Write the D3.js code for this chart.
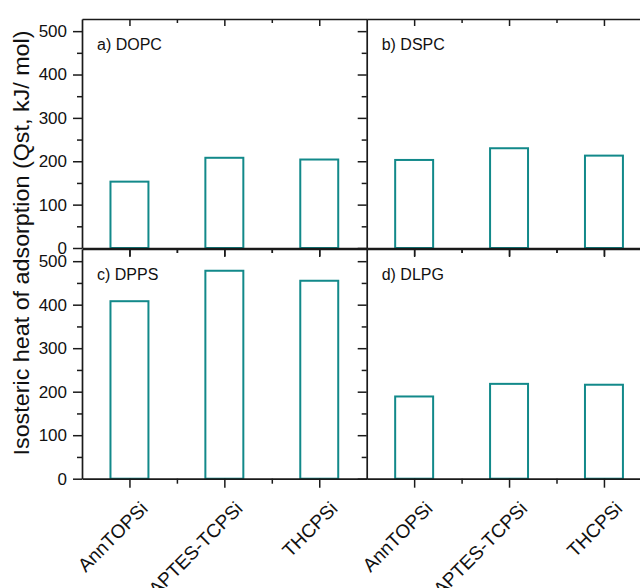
<!DOCTYPE html>
<html>
<head>
<meta charset="utf-8">
<script src="https://cdn.jsdelivr.net/npm/d3@7"></script>
<style>
  html, body { margin: 0; padding: 0; background: #fff; }
  svg { display: block; }
  text { font-family: Arial, "Liberation Sans", sans-serif; fill: #111; }
</style>
</head>
<body>
<svg id="chart" width="640" height="588"></svg>
<script>
// ---- data ----
const categories = ["AnnTOPSi", "APTES-TCPSi", "THCPSi"];
const panelLabels = ["a) DOPC", "b) DSPC", "c) DPPS", "d) DLPG"];
const dopcValues = [153, 208, 204];
const dspcValues = [203, 230, 213];
const dppsValues = [408, 478, 455];
const dlpgValues = [189, 218, 216];
const yTickValues = [0, 100, 200, 300, 400, 500];
const yAxisTitle = "Isosteric heat of adsorption (Qst, kJ/ mol)";

const panelSeries = [dopcValues, dspcValues, dppsValues, dlpgValues];

// ---- layout ----
const svg = d3.select("#chart");
const colX = [82, 366.7];
const panelW = 284.7;
const rowY = [[19, 248], [249, 478.7]];
const yMax = 528;
const barColor = "#12898a";
const axisColor = "#1a1a1a";

panelSeries.forEach((vals, i) => {
  const col = i % 2, row = Math.floor(i / 2);
  const x0 = colX[col], x1 = x0 + panelW;
  const [yTop, yBot] = rowY[row];

  const x = d3.scaleLinear().domain([0.5, 3.5]).range([x0, x1]);
  const y = d3.scaleLinear().domain([0, yMax]).range([yBot, yTop]);

  const g = svg.append("g");

  // bars
  g.selectAll("rect.bar")
    .data(vals)
    .join("rect")
    .attr("class", "bar")
    .attr("x", (d, j) => x(j + 1 - 0.2))
    .attr("width", x(1.4) - x(1))
    .attr("y", d => y(d))
    .attr("height", d => y(0) - y(d))
    .attr("fill", "#fff")
    .attr("stroke", barColor)
    .attr("stroke-width", 2);

  const styleAxis = sel => {
    sel.select(".domain").attr("stroke", axisColor).attr("stroke-width", 1.7);
    sel.selectAll(".tick line").attr("stroke", axisColor).attr("stroke-width", 1.5);
  };

  // left axis: major + minor outward ticks
  const yMinor = d3.range(50, 501, 100);
  const leftMinor = g.append("g").attr("transform", `translate(${x0},0)`)
    .call(d3.axisLeft(y).tickValues(yMinor).tickSize(5).tickFormat(""));
  leftMinor.select(".domain").remove();
  leftMinor.selectAll(".tick line").attr("stroke", axisColor).attr("stroke-width", 1.5);

  const leftAxis = g.append("g").attr("transform", `translate(${x0},0)`)
    .call(d3.axisLeft(y).tickValues(yTickValues).tickSize(9).tickSizeOuter(0)
      .tickPadding(6).tickFormat(col === 0 ? d3.format("d") : ""));
  styleAxis(leftAxis);
  leftAxis.selectAll(".tick text").attr("font-size", 17).attr("fill", "#111");

  // top axis: inward ticks
  const topMinor = g.append("g").attr("transform", `translate(0,${yTop})`)
    .call(d3.axisTop(x).tickValues([1.5, 2.5]).tickSize(-4).tickFormat(""));
  topMinor.select(".domain").remove();
  topMinor.selectAll(".tick line").attr("stroke", axisColor).attr("stroke-width", 1.5);
  const topAxis = g.append("g").attr("transform", `translate(0,${yTop})`)
    .call(d3.axisTop(x).tickValues([1, 2, 3]).tickSize(-7).tickSizeOuter(0).tickFormat(""));
  styleAxis(topAxis);

  // bottom axis: outward ticks
  const botMinor = g.append("g").attr("transform", `translate(0,${yBot})`)
    .call(d3.axisBottom(x).tickValues([1.5, 2.5]).tickSize(5).tickFormat(""));
  botMinor.select(".domain").remove();
  botMinor.selectAll(".tick line").attr("stroke", axisColor).attr("stroke-width", 1.5);
  const botAxis = g.append("g").attr("transform", `translate(0,${yBot})`)
    .call(d3.axisBottom(x).tickValues([1, 2, 3]).tickSize(9).tickSizeOuter(0)
      .tickFormat((d) => row === 1 ? categories[d - 1] : ""));
  styleAxis(botAxis);
  if (row === 1) {
    botAxis.selectAll(".tick text")
      .attr("font-size", 19)
      .attr("fill", "#111")
      .attr("text-anchor", "end")
      .attr("dy", null)
      .attr("y", null)
      .attr("transform", "translate(19,31) rotate(-45)");
  }

  // panel label
  g.append("text")
    .attr("x", x0 + 15)
    .attr("y", yTop + 31)
    .attr("font-size", 16)
    .text(panelLabels[i]);
});

// y axis title
svg.append("text")
  .attr("transform", "translate(28.5,243) rotate(-90)")
  .attr("text-anchor", "middle")
  .attr("font-size", 22)
  .attr("textLength", 425)
  .attr("lengthAdjust", "spacingAndGlyphs")
  .text(yAxisTitle);
</script>
</body>
</html>
